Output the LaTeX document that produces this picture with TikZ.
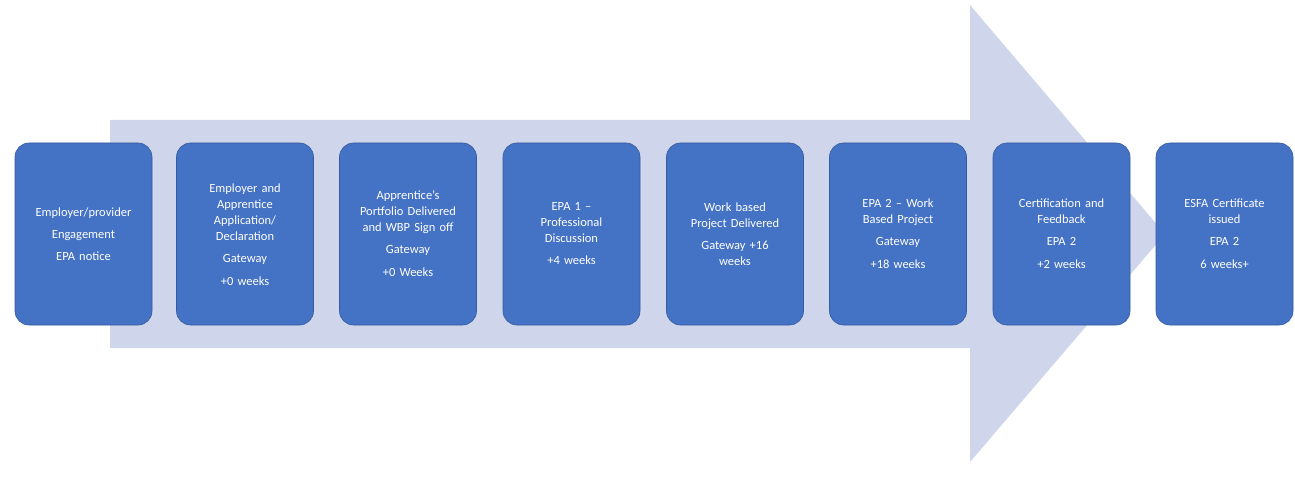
\documentclass[tikz,border=0pt]{standalone}
\usepackage{fontspec}
\setmainfont{Carlito}
\definecolor{arrowc}{RGB}{207,213,234}
\definecolor{boxc}{RGB}{68,114,196}
\tikzset{stage/.style={draw=boxc!80!black,line width=0.6pt,fill=boxc,rounded corners=14pt,minimum width=137pt,minimum height=182pt,inner sep=2pt},
stagetext/.style={text=white,align=center,font=\fontsize{12.5}{16}\selectfont,text width=118pt}}
\begin{document}
\begin{tikzpicture}[x=1pt,y=-1pt]
\useasboundingbox (0,0) rectangle (1295,478);
\fill[arrowc] (110,120) -- (970,120) -- (970,5) -- (1165,234) -- (970,462) -- (970,348) -- (110,348) -- cycle;
\foreach \n/\x in {1/83.5,2/245,3/408,4/571.5,5/735,6/898,7/1061.5,8/1224.5}{
  \node[stage] (b\n) at (\x,234) {};
}
\node[stagetext] (t1) at (b1) {Employer/provider\\[6pt]Engagement\\[6pt]EPA notice};
\node[stagetext] (t2) at ([yshift=-1pt]b2) {Employer and\\Apprentice\\Application/\\Declaration\\[6pt]Gateway\\[7pt]+0 weeks};
\node[stagetext] (t3) at ([yshift=0pt]b3) {Apprentice’s\\Portfolio Delivered\\and WBP Sign off\\[6pt]Gateway\\[7pt]+0 Weeks};
\node[stagetext] (t4) at (b4) {EPA 1 –\\Professional\\Discussion\\[6pt]+4 weeks};
\node[stagetext] (t5) at (b5) {Work based\\Project Delivered\\[6pt]Gateway +16\\weeks};
\node[stagetext] (t6) at ([yshift=0pt]b6) {EPA 2 – Work\\Based Project\\[6pt]Gateway\\[7pt]+18 weeks};
\node[stagetext] (t7) at (b7) {Certification and\\Feedback\\[6pt]EPA 2\\[7pt]+2 weeks};
\node[stagetext] (t8) at (b8) {ESFA Certificate\\issued\\[6pt]EPA 2\\[7pt]6 weeks+};
\end{tikzpicture}
\end{document}
